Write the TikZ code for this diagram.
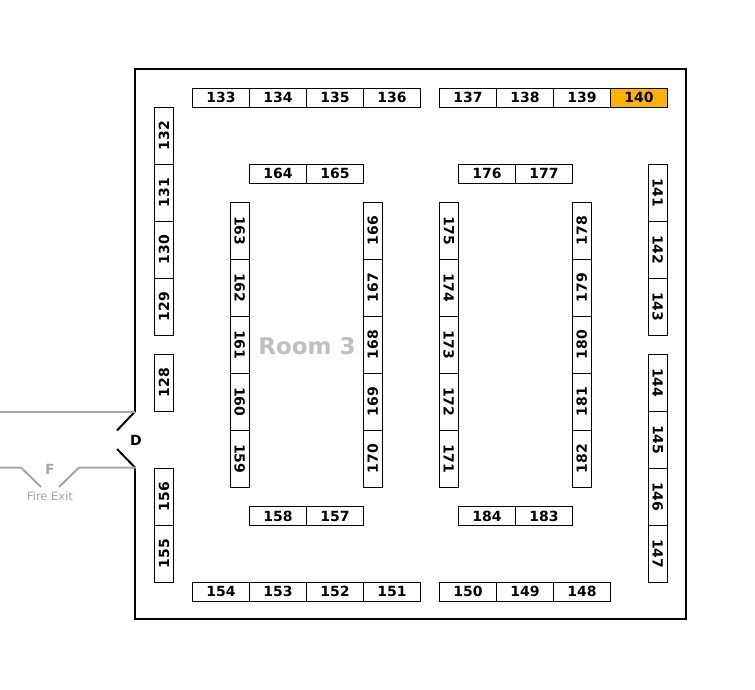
\documentclass[tikz,border=0pt]{standalone}
\usepackage{fontspec}
\setmainfont{DejaVu Sans}
\definecolor{boothorange}{RGB}{255,178,0}
\definecolor{exitgray}{RGB}{166,166,166}
\definecolor{roomgray}{RGB}{191,191,191}
\begin{document}
\begin{tikzpicture}[x=1pt,y=-1pt,
  booth/.style={draw=black,line width=0.9pt,minimum width=57pt,minimum height=19pt,inner sep=0pt,
    font=\fontsize{14}{14}\selectfont\bfseries,text=black},
  up/.style={booth,rotate=90},
  down/.style={booth,rotate=-90},
  wall/.style={line width=2pt,black},
  exitline/.style={line width=2pt,exitgray}]
\useasboundingbox (0,0) rectangle (755,689);
% room walls
\coordinate (wTL) at (135,69);
\coordinate (wTR) at (686,69);
\coordinate (wBR) at (686,619);
\coordinate (wBL) at (135,619);
\coordinate (dA) at (135,411.5);
\coordinate (dB) at (117,430.5);
\coordinate (dC) at (117,449);
\coordinate (dD) at (135,467.5);
\draw[wall,line join=miter] (dA) -- (wTL) -- (wTR) -- (wBR) -- (wBL) -- (dD);
\draw[wall] (dA) -- (dB);
\draw[wall] (dC) -- (dD);
\node[font=\fontsize{14}{14}\selectfont\bfseries] (door) at (136,440) {D};
% fire exit
\coordinate (e1) at (0,411.5);
\coordinate (e2) at (0,467.5);
\coordinate (e3) at (21,467.5);
\coordinate (e4) at (41,487);
\coordinate (e5) at (59,487);
\coordinate (e6) at (79,467.5);
\draw[exitline] (e1) -- (dA);
\draw[exitline] (e2) -- (e3) -- (e4);
\draw[exitline] (e5) -- (e6) -- (dD);
\node[font=\fontsize{14}{14}\selectfont\bfseries,text=exitgray] (fexit) at (50,469) {F};
\node[font=\fontsize{11.5}{11.5}\selectfont,text=exitgray] (fexitlbl) at (50,496) {Fire Exit};
% room label
\node[font=\fontsize{23}{23}\selectfont\bfseries,text=roomgray] (room) at (307,346) {Room 3};
% top row
\foreach \n [count=\i from 0] in {133,134,135,136} \node[booth] (b\n) at (221+57*\i,97.8) {\n};
\foreach \n [count=\i from 0] in {137,138,139} \node[booth] (b\n) at (468+57*\i,97.8) {\n};
\node[booth,fill=boothorange] (b140) at (639,97.8) {140};
% bottom row
\foreach \n [count=\i from 0] in {154,153,152,151} \node[booth] (b\n) at (221+57*\i,591.8) {\n};
\foreach \n [count=\i from 0] in {150,149,148} \node[booth] (b\n) at (468+57*\i,591.8) {\n};
% inner short rows
\node[booth] (b164) at (278,173.8) {164};
\node[booth] (b165) at (335,173.8) {165};
\node[booth] (b176) at (487,173.8) {176};
\node[booth] (b177) at (544,173.8) {177};
\node[booth] (b158) at (278,516.2) {158};
\node[booth] (b157) at (335,516.2) {157};
\node[booth] (b184) at (487,516.2) {184};
\node[booth] (b183) at (544,516.2) {183};
% left wall column
\foreach \n [count=\i from 0] in {132,131,130,129} \node[up] (b\n) at (164,135.8+57*\i) {\n};
\node[up] (b128) at (164,382.7) {128};
\node[up] (b156) at (164,496.7) {156};
\node[up] (b155) at (164,553.7) {155};
% inner columns
\foreach \n [count=\i from 0] in {163,162,161,160,159} \node[down] (b\n) at (239.8,230.8+57*\i) {\n};
\foreach \n [count=\i from 0] in {166,167,168,169,170} \node[up] (b\n) at (372.8,230.8+57*\i) {\n};
\foreach \n [count=\i from 0] in {175,174,173,172,171} \node[down] (b\n) at (448.8,230.8+57*\i) {\n};
\foreach \n [count=\i from 0] in {178,179,180,181,182} \node[up] (b\n) at (581.8,230.8+57*\i) {\n};
% right wall column
\foreach \n [count=\i from 0] in {141,142,143} \node[down] (b\n) at (657.8,192.8+57*\i) {\n};
\foreach \n [count=\i from 0] in {144,145,146,147} \node[down] (b\n) at (657.8,382.7+57*\i) {\n};
\end{tikzpicture}
\end{document}
